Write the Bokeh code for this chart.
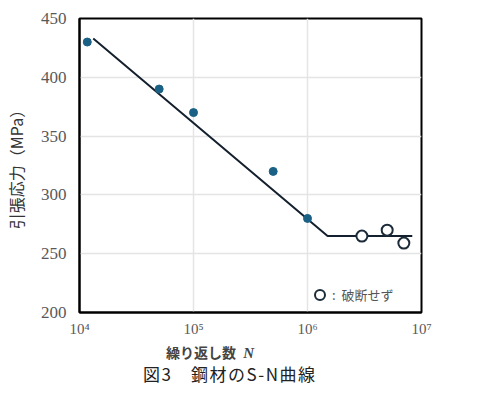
from bokeh.plotting import figure
from bokeh.models import FixedTicker, Legend, LegendItem, Div
from bokeh.layouts import column
from bokeh.embed import file_html
from bokeh.resources import INLINE

# --- data ---
fail_N = [1.17e4, 5.0e4, 1.0e5, 5.0e5, 1.0e6]
fail_S = [430, 390, 370, 320, 280]
runout_N = [3.0e6, 5.0e6, 7.0e6]
runout_S = [265, 270, 259]
curve_N = [1.32e4, 1.5e6, 8.3e6]
curve_S = [433, 265, 265]
x_ticks = [1e4, 1e5, 1e6, 1e7]
x_tick_labels = ["10⁴", "10⁵", "10⁶", "10⁷"]
y_ticks = [200, 250, 300, 350, 400, 450]

JP = "Noto Sans CJK JP"
SERIF = "Liberation Serif"

p = figure(width=485, height=340, x_axis_type="log",
           x_range=(1e4, 1e7), y_range=(200, 450),
           output_backend="svg", toolbar_location=None,
           min_border_left=77, min_border_right=64,
           min_border_top=18, min_border_bottom=28)

p.background_fill_color = "white"
p.border_fill_color = "white"
p.outline_line_color = "black"
p.outline_line_width = 2

# grid
p.xgrid.ticker = FixedTicker(ticks=x_ticks)
p.ygrid.ticker = FixedTicker(ticks=y_ticks)
p.grid.grid_line_color = "#e4e4e4"
p.grid.grid_line_width = 1.5

# axes
p.xaxis.ticker = FixedTicker(ticks=x_ticks)
p.xaxis.major_label_overrides = {t: l for t, l in zip(x_ticks, x_tick_labels)}
p.yaxis.ticker = FixedTicker(ticks=y_ticks)
for ax in (p.xaxis, p.yaxis):
    ax.axis_line_color = "black"
    ax.axis_line_width = 2
    ax.major_tick_line_color = None
    ax.minor_tick_line_color = None
    ax.major_tick_in = 0
    ax.major_tick_out = 0
    ax.major_label_text_font = SERIF
    ax.major_label_text_color = "#595959"
p.xaxis.major_label_text_font_size = "15px"
p.xaxis.major_label_standoff = 8
p.yaxis.major_label_text_font_size = "17px"
p.yaxis.major_label_standoff = 13

p.yaxis.axis_label = "引張応力（MPa）"
p.yaxis.axis_label_text_font = JP
p.yaxis.axis_label_text_font_size = "16px"
p.yaxis.axis_label_text_font_style = "normal"
p.yaxis.axis_label_text_color = "#333333"
p.yaxis.axis_label_standoff = 10

# curve
p.line(curve_N, curve_S, line_color="#14202e", line_width=2)

# fracture points
p.scatter(fail_N, fail_S, size=8, marker="circle",
          fill_color="#1a6185", line_color="#1a6185")

# run-out points
r_run = p.scatter(runout_N, runout_S, size=11, marker="circle",
                  fill_color="white", line_color="#1c2b3a", line_width=2)

legend = Legend(items=[LegendItem(label=":  破断せず", renderers=[r_run])],
                location=(228, 5), padding=0, margin=0, spacing=0,
                glyph_width=25, glyph_height=25, label_standoff=0,
                label_text_font=JP, label_text_font_size="13px",
                label_text_color="#555555",
                background_fill_alpha=0, border_line_alpha=0)
p.add_layout(legend)

# x-axis label and caption below the plot
below_html = (
    '<div style="position:relative;width:485px;height:79px;">'
    '<span style="position:absolute;left:166px;top:5px;line-height:1;'
    'font-family:\'Noto Sans CJK JP\';font-size:14px;font-weight:bold;color:#444;'
    'white-space:nowrap;">繰り返し数 '
    '<i style="font-family:\'Liberation Serif\';font-size:15px;margin-left:4px;">N</i></span>'
    '<span style="position:absolute;left:143px;top:25px;line-height:1;'
    'font-family:\'Noto Sans CJK JP\';font-size:17px;letter-spacing:1.5px;color:#222;'
    'white-space:nowrap;">図3　鋼材のS-N曲線</span>'
    '</div>'
)
div = Div(text=below_html, width=485, height=79, margin=0)

layout = column(p, div, spacing=0)
open("out.html", "w").write(file_html(layout, INLINE))
